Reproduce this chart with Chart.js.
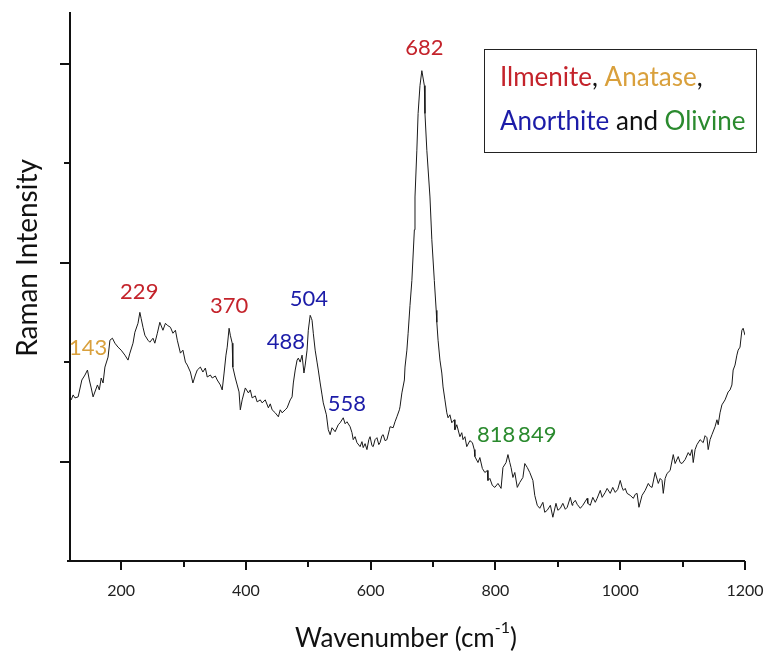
<!DOCTYPE html>
<html>
<head>
<meta charset="utf-8">
<script src="https://cdn.jsdelivr.net/npm/chart.js@4.4.0/dist/chart.umd.min.js"></script>
<style>
  body { margin: 0; background: #fff; }
  canvas { display: block; }
</style>
</head>
<body>
<canvas id="spectrum" width="766" height="660"></canvas>
<script>
// spectrum (wavenumber in cm-1, intensity in arbitrary units)
const wavenumber = [
  120,123,126,131,137,142,146,149,152,155,
  162,165,168,171,174,179,182,186,190,195,
  200,206,211,214,219,222,227,230,232,235,
  238,243,246,251,254,258,262,267,271,274,
  279,283,287,290,295,299,303,306,311,315,
  319,322,327,331,335,338,343,346,351,354,
  359,362,365,368,370,373,375,378,379,383,
  386,389,391,394,399,404,407,410,415,418,
  423,426,431,436,439,442,447,452,455,458,
  463,466,471,474,476,479,482,484,487,490,
  493,495,498,500,503,505,506,508,511,514,
  516,519,522,524,529,532,535,538,543,548,
  551,556,559,562,567,570,572,575,578,583,
  586,588,591,594,597,599,602,604,607,610,
  613,615,618,620,623,626,630,631,636,639,
  642,646,647,650,654,655,658,660,663,666,
  670,671,674,676,679,682,686,687,690,695,
  698,702,705,706,708,711,714,716,719,722,
  724,727,730,734,735,738,743,746,748,751,
  754,759,763,766,767,772,775,779,783,787,
  788,791,795,799,804,809,812,817,820,823,
  825,828,831,835,839,844,847,851,855,860,
  863,867,871,876,879,883,888,892,897,900,
  904,908,912,915,920,923,924,928,931,936,
  940,947,948,952,956,960,963,968,971,976,
  979,984,988,992,996,1000,1003,1005,1008,1011,
  1016,1021,1024,1027,1030,1035,1040,1045,1048,1051,
  1056,1061,1064,1067,1069,1072,1075,1080,1085,1088,
  1093,1096,1099,1104,1109,1112,1115,1117,1120,1123,
  1128,1133,1136,1139,1141,1144,1147,1152,1155,1157,
  1160,1163,1168,1173,1176,1179,1181,1184,1187,1189,
  1192,1195,1197,1200
];
const intensity = [
  1620,1670,1640,1650,1820,1870,1920,1820,1740,1650,
  1770,1720,1840,1790,1950,2050,2220,2240,2190,2150,
  2120,2070,2020,2090,2190,2300,2390,2500,2440,2350,
  2270,2220,2200,2240,2190,2290,2400,2320,2390,2370,
  2350,2290,2320,2220,2090,2120,2000,1970,1900,1790,
  1870,1920,1950,1900,1940,1850,1870,1840,1860,1820,
  1770,1720,1890,2070,2150,2340,2270,2190,1950,1840,
  1770,1700,1520,1620,1740,1690,1720,1640,1660,1600,
  1620,1590,1620,1540,1580,1520,1490,1450,1520,1490,
  1520,1540,1620,1650,1790,1920,2020,2040,2000,2070,
  1890,1970,2120,2320,2470,2440,2420,2290,2120,2000,
  1920,1790,1670,1590,1470,1320,1270,1340,1300,1370,
  1390,1440,1380,1400,1350,1290,1220,1250,1190,1150,
  1200,1140,1180,1120,1220,1250,1160,1150,1220,1240,
  1170,1190,1260,1270,1210,1220,1320,1350,1340,1400,
  1450,1520,1550,1690,1820,1950,2120,2290,2570,2820,
  3330,3660,4130,4500,4780,4930,4780,4500,4130,3660,
  3230,2820,2520,2400,2220,2020,1890,1750,1620,1490,
  1440,1470,1390,1420,1320,1370,1250,1290,1220,1250,
  1150,1210,1190,1120,1050,990,1040,930,890,910,
  810,830,760,740,780,730,940,990,1070,990,
  940,840,890,740,790,840,980,940,890,810,
  660,560,530,590,490,510,560,440,580,510,
  530,580,520,540,640,560,580,610,570,530,
  560,630,580,560,640,590,630,710,640,690,
  730,680,740,690,720,810,740,710,730,680,
  660,630,670,680,540,660,710,780,750,740,
  890,780,830,810,680,830,880,910,1070,980,
  1050,990,980,1020,1090,1060,1120,990,1120,1170,
  1220,1190,1260,1240,1120,1220,1270,1350,1420,1370,
  1490,1570,1620,1700,1720,1770,1920,1970,2070,2120,
  2150,2320,2340,2270
];

const xMajorTicks = [200, 400, 600, 800, 1000, 1200];
const xMinorTicks = [300, 500, 700, 900, 1100];
const yMajorTicks = [1000, 3000, 5000];
const yMinorTicks = [2000, 4000];

// peak annotations: text, mineral, anchor (data units)
const peakText    = ['143', '229', '370', '488', '504', '558', '682', '818', '849'];
const peakMineral = ['Anatase', 'Ilmenite', 'Ilmenite', 'Anorthite', 'Anorthite', 'Anorthite', 'Ilmenite', 'Olivine', 'Olivine'];
const peakAtX     = [147, 229, 373, 464, 501, 562, 686, 801, 867];
const peakAtY     = [2140, 2710, 2560, 2200, 2640, 1580, 5160, 1270, 1270];

const mineralColor = {
  Ilmenite: '#c4232b',
  Anatase: '#d9a03c',
  Anorthite: '#1c1ca8',
  Olivine: '#2a8a2e',
};

const FONT = 'Lato, "Open Sans", sans-serif';

const decor = {
  id: 'decor',
  afterDraw(chart) {
    const { ctx, chartArea: a } = chart;
    const x = chart.scales.x, y = chart.scales.y;
    ctx.save();

    // axes
    ctx.strokeStyle = '#111';
    ctx.lineWidth = 2;
    ctx.beginPath();
    ctx.moveTo(a.left, a.top);
    ctx.lineTo(a.left, a.bottom);
    ctx.moveTo(a.left - 3, a.bottom);
    ctx.lineTo(a.right, a.bottom);
    ctx.stroke();

    ctx.beginPath();
    xMajorTicks.forEach(v => {
      const px = Math.round(x.getPixelForValue(v));
      ctx.moveTo(px, a.bottom); ctx.lineTo(px, a.bottom + 9);
    });
    xMinorTicks.forEach(v => {
      const px = Math.round(x.getPixelForValue(v));
      ctx.moveTo(px, a.bottom); ctx.lineTo(px, a.bottom + 6);
    });
    yMajorTicks.forEach(v => {
      const py = Math.round(y.getPixelForValue(v));
      ctx.moveTo(a.left - 10, py); ctx.lineTo(a.left, py);
    });
    yMinorTicks.forEach(v => {
      const py = Math.round(y.getPixelForValue(v));
      ctx.moveTo(a.left - 6, py); ctx.lineTo(a.left, py);
    });
    ctx.stroke();

    // peak labels
    ctx.font = '22px ' + FONT;
    ctx.textAlign = 'center';
    ctx.textBaseline = 'middle';
    peakText.forEach((t, i) => {
      ctx.fillStyle = mineralColor[peakMineral[i]];
      ctx.fillText(t, x.getPixelForValue(peakAtX[i]), y.getPixelForValue(peakAtY[i]));
    });

    // axis titles
    ctx.fillStyle = '#111';
    ctx.font = '28px ' + FONT;
    ctx.save();
    ctx.translate(28, 258);
    ctx.rotate(-Math.PI / 2);
    ctx.fillText('Raman Intensity', 0, 0);
    ctx.restore();

    ctx.textAlign = 'left';
    ctx.textBaseline = 'alphabetic';
    ctx.font = '26px ' + FONT;
    const t1 = 'Wavenumber (cm', sup = '-1', t2 = ')';
    const w1 = ctx.measureText(t1).width, w3 = ctx.measureText(t2).width;
    ctx.font = '16px ' + FONT;
    const w2 = ctx.measureText(sup).width;
    let sx = 406 - (w1 + w2 + w3) / 2;
    const base = 647;
    ctx.font = '26px ' + FONT;
    ctx.fillText(t1, sx, base);
    ctx.font = '16px ' + FONT;
    ctx.fillText(sup, sx + w1, base - 14);
    ctx.font = '26px ' + FONT;
    ctx.fillText(t2, sx + w1 + w2, base);

    // legend box
    ctx.strokeStyle = '#222';
    ctx.lineWidth = 1;
    ctx.strokeRect(484.5, 49.5, 272, 103);
    ctx.font = '26px ' + FONT;
    ctx.textBaseline = 'middle';
    const lines = [
      [['Ilmenite', mineralColor.Ilmenite], [', ', '#111'], ['Anatase', mineralColor.Anatase], [',', '#111']],
      [['Anorthite', mineralColor.Anorthite], [' and ', '#111'], ['Olivine', mineralColor.Olivine]],
    ];
    [78, 122].forEach((ly, li) => {
      let lx = 500;
      lines[li].forEach(([s, c]) => {
        ctx.fillStyle = c;
        ctx.fillText(s, lx, ly);
        lx += ctx.measureText(s).width;
      });
    });

    ctx.restore();
  }
};

new Chart(document.getElementById('spectrum'), {
  type: 'line',
  data: {
    datasets: [{
      data: wavenumber.map((w, i) => ({ x: w, y: intensity[i] })),
      borderColor: '#1a1a1a',
      borderWidth: 1,
      pointRadius: 0,
      tension: 0,
      fill: false,
    }]
  },
  options: {
    responsive: false,
    animation: false,
    layout: { padding: { top: 12, right: 21, left: 0, bottom: 0 } },
    plugins: { legend: { display: false }, tooltip: { enabled: false } },
    scales: {
      x: {
        type: 'linear',
        min: 118,
        max: 1200,
        afterBuildTicks: s => { s.ticks = xMajorTicks.map(v => ({ value: v })); },
        afterFit: s => { s.height = 99; s.paddingLeft = 0; s.paddingRight = 0; },
        grid: { display: false },
        border: { display: false },
        ticks: {
          color: '#222',
          font: { family: FONT, size: 16 },
          padding: 12,
          maxRotation: 0,
          autoSkip: false,
          callback: v => String(v),
        },
      },
      y: {
        min: 0,
        max: 5520,
        afterFit: s => { s.width = 70; },
        grid: { display: false },
        border: { display: false },
        ticks: { display: false },
      }
    }
  },
  plugins: [decor]
});
</script>
</body>
</html>
